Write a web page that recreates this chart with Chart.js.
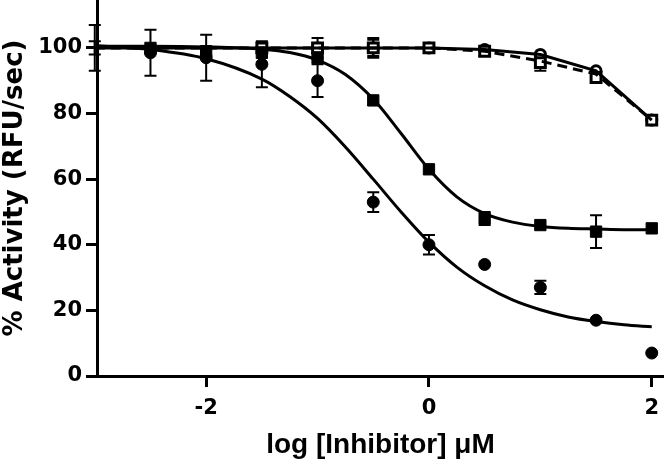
<!DOCTYPE html>
<html>
<head>
<meta charset="utf-8">
<script src="https://cdn.jsdelivr.net/npm/chart.js@4.4.0/dist/chart.umd.min.js"></script>
<style>
  html, body { margin: 0; padding: 0; background: #fff; }
  #wrap { width: 664px; height: 466px; }
</style>
</head>
<body>
<div id="wrap"><canvas id="doseChart" width="664" height="466"></canvas></div>
<script>
// log dose points (uM)
const logDoses = [-3, -2.5, -2, -1.5, -1, -0.5, 0, 0.5, 1, 1.5, 2];

// measured means and error (SD)
const circleMean = [100, 98.5, 97, 95, 90, 53, 40, 34, 27, 17, 7];
const circleErr  = [7, 7, 7, 7, 5, 3, 3, 0, 2, 0, 0];
const squareMean = [100, 100, 99, 98.5, 97, 84, 63, 48, 46, 44, 45];
const squareErr  = [2, 0, 0, 0, 0, 0, 0, 2, 0, 5, 0];
const openCircleMean = [null, null, null, 100, 100, 100, 100, 99.5, 98, 93, 78];
const openCircleErr  = [0, 0, 0, 1.5, 3, 2.5, 0, 0, 0, 0, 0];
const openSquareMean = [null, null, null, 100, 100, 100, 100, 99, 95.5, 91, 78];
const openSquareErr  = [0, 0, 0, 0, 0, 3, 0, 1.5, 2.5, 0, 0];

// fitted curves
const fitX = [-3, -2.5, -2, -1.5, -1.25, -1, -0.75, -0.5, -0.25, 0, 0.25, 0.5, 0.75, 1, 1.25, 1.5, 1.75, 2];
const circleFit = [100.7, 99.5, 96.7, 90.5, 85.2, 78.5, 69.8, 60, 50, 40.8, 33.2, 27.5, 23.2, 20.2, 18, 16.6, 15.6, 15];
const squareFit = [100.5, 100.5, 100.3, 99.6, 98.6, 96.3, 91.9, 84.4, 73.9, 63, 54.6, 49.5, 46.9, 45.6, 45, 44.8, 44.6, 44.6];
const openFitX = [-3, 0, 0.5, 1, 1.5, 2];
const openCircleFit = [100, 100, 99.5, 98, 93, 78];
const openSquareFit = [100, 100, 99, 96, 92, 78];

const xTicks = [-2, 0, 2];
const yTicks = [0, 20, 40, 60, 80, 100];

const pts = (xs, ys) => xs.map((x, i) => ({ x: x, y: ys[i] }));

// draws the SD bars through the chart scales
const errorBars = {
  id: 'errorBars',
  beforeDatasetsDraw(chart) {
    const { ctx, scales: { x, y } } = chart;
    ctx.save();
    ctx.strokeStyle = '#000';
    ctx.lineWidth = 2;
    chart.data.datasets.forEach(ds => {
      if (!ds.errors) return;
      ds.data.forEach((p, i) => {
        const e = ds.errors[i];
        if (!e || p.y == null) return;
        const px = x.getPixelForValue(p.x);
        const top = y.getPixelForValue(p.y + e);
        const bot = y.getPixelForValue(p.y - e);
        ctx.beginPath();
        ctx.moveTo(px, top); ctx.lineTo(px, bot);
        ctx.moveTo(px - 6, top); ctx.lineTo(px + 6, top);
        ctx.moveTo(px - 6, bot); ctx.lineTo(px + 6, bot);
        ctx.stroke();
      });
    });
    ctx.restore();
  }
};

const tickFont = "'DejaVu Sans', sans-serif";
const titleFont = "'Liberation Sans', Arial, sans-serif";

const curve = (data, dash) => ({
  type: 'line',
  data: data,
  showLine: true,
  borderColor: '#000',
  borderWidth: 3,
  borderDash: dash || [],
  pointRadius: 0,
  cubicInterpolationMode: 'monotone',
  fill: false
});

const ctx = document.getElementById('doseChart').getContext('2d');
const doseChart = new Chart(ctx, {
  type: 'scatter',
  data: {
    datasets: [
      curve(pts(fitX, circleFit)),
      curve(pts(fitX, squareFit)),
      { ...curve(pts(openFitX, openSquareFit), [10, 6]), cubicInterpolationMode: 'default', tension: 0 },
      { ...curve(pts(openFitX, openCircleFit)), cubicInterpolationMode: 'default', tension: 0 },
      {
        label: 'circles',
        data: pts(logDoses, circleMean),
        errors: circleErr,
        pointStyle: 'circle',
        pointRadius: logDoses.map(v => v === -3 ? 0 : 6),
        backgroundColor: '#000',
        borderColor: '#000',
        borderWidth: 1
      },
      {
        label: 'squares',
        data: pts(logDoses, squareMean),
        errors: squareErr,
        pointStyle: 'rect',
        pointRadius: logDoses.map(v => v === -3 ? 0 : 8),
        backgroundColor: '#000',
        borderColor: '#000',
        borderWidth: 1
      },
      {
        label: 'open squares',
        data: pts(logDoses, openSquareMean),
        errors: openSquareErr,
        pointStyle: 'rect',
        pointRadius: 7,
        backgroundColor: '#fff',
        borderColor: '#000',
        borderWidth: 3
      },
      {
        label: 'open circles',
        data: pts(logDoses, openCircleMean),
        errors: openCircleErr,
        pointStyle: 'circle',
        pointRadius: 5,
        backgroundColor: '#fff',
        borderColor: '#000',
        borderWidth: 3
      }
    ]
  },
  options: {
    responsive: false,
    animation: false,
    layout: { padding: 0, autoPadding: false },
    plugins: {
      legend: { display: false },
      tooltip: { enabled: false }
    },
    scales: {
      x: {
        type: 'linear',
        min: -2.98,
        max: 2.11,
        afterBuildTicks: s => { s.ticks = xTicks.map(v => ({ value: v })); },
        afterFit: s => { s.height = 90; s.paddingLeft = 0; s.paddingRight = 0; },
        grid: { drawOnChartArea: false, drawTicks: true, tickLength: 11, tickWidth: 3, tickColor: '#000' },
        border: { color: '#000', width: 3 },
        ticks: {
          color: '#000',
          padding: 9,
          maxRotation: 0,
          font: { family: tickFont, size: 21, weight: 'bold' }
        },
        title: {
          display: true,
          text: 'log [Inhibitor] μM',
          color: '#000',
          padding: { top: 0, bottom: 4 },
          font: { family: titleFont, size: 28, weight: 'bold' }
        }
      },
      y: {
        min: 0,
        max: 114.6,
        afterBuildTicks: s => { s.ticks = yTicks.map(v => ({ value: v })); },
        afterFit: s => { s.width = 97; s.paddingTop = 0; s.paddingBottom = 0; },
        grid: { drawOnChartArea: false, drawTicks: true, tickLength: 11, tickWidth: 3, tickColor: '#000' },
        border: { color: '#000', width: 3 },
        ticks: {
          color: '#000',
          padding: 4,
          font: { family: tickFont, size: 21, weight: 'bold' }
        },
        title: {
          display: true,
          text: '% Activity (RFU/sec)',
          color: '#000',
          padding: { top: 0, bottom: 0 },
          font: { family: tickFont, size: 26, weight: 'bold' }
        }
      }
    }
  },
  plugins: [errorBars]
});
</script>
</body>
</html>
